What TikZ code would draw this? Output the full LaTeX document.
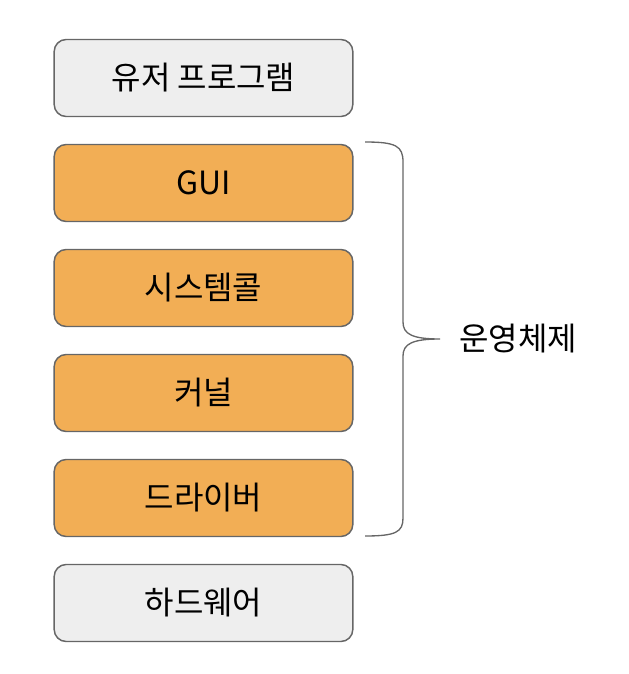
\documentclass[tikz,border=0pt]{standalone}
\usepackage{fontspec}
\setmainfont{Noto Sans CJK KR}
\usetikzlibrary{positioning}
\definecolor{layergray}{HTML}{EEEEEE}
\definecolor{layerorange}{HTML}{F2AE55}
\definecolor{edgegray}{HTML}{666666}
\tikzset{layer/.style={draw=edgegray, line width=1.1pt, rounded corners=9pt,
    minimum width=224pt, minimum height=57.75pt, font=\fontsize{24}{28}\selectfont}}
\tikzset{userlayer/.style={layer, fill=layergray}, oslayer/.style={layer, fill=layerorange}}

\begin{document}
\begin{tikzpicture}[x=0.75pt,y=-0.75pt,node distance=78.75pt,on grid]
    \useasboundingbox (0,0) rectangle (628,674);
    \node[userlayer] (user) at (203.5,78) {유저 프로그램};
    \node[oslayer] (gui) [below=of user] {GUI};
    \node[oslayer] (syscall) [below=of gui] {시스템콜};
    \node[oslayer] (kernel) [below=of syscall] {커널};
    \node[oslayer] (driver) [below=of kernel] {드라이버};
    \node[userlayer] (hardware) [below=of driver] {하드웨어};

    % brace
    \coordinate (bracetop) at (365,142);
    \coordinate (bracetip) at (440,339);
    \coordinate (bracebot) at (365,536);
    \draw[edgegray, line width=1pt]
    (bracetop) .. controls (396,142) and (403,146) .. (403,162) -- (403,322)
        .. controls (403,334) and (412,339) .. (bracetip)
        .. controls (412,339) and (403,344) .. (403,356) -- (403,518)
        .. controls (403,532) and (396,536) .. (bracebot);
    \node[anchor=west, font=\fontsize{24}{28}\selectfont] (os) at ([xshift=11pt]bracetip) {운영체제};
\end{tikzpicture}
\end{document}
